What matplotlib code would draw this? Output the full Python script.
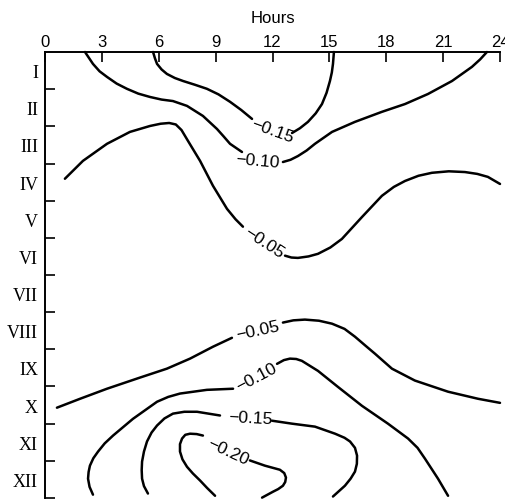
import matplotlib.pyplot as plt

# hour ticks along the top, months down the side
hour_ticks = [0, 3, 6, 9, 12, 15, 18, 21, 24]
months = ["I", "II", "III", "IV", "V", "VI", "VII", "VIII", "IX", "X", "XI", "XII"]

# isolines: (hours, month position), split at the label gap
# upper -0.15
u15a_h = [5.70, 5.80, 5.91, 6.15, 6.43, 6.85, 7.28, 7.90, 8.54, 9.15, 9.76, 10.35, 10.92]
u15a_m = [0.00, 0.17, 0.32, 0.47, 0.59, 0.70, 0.78, 0.88, 0.99, 1.14, 1.34, 1.56, 1.80]
u15b_h = [13.03, 13.45, 13.87, 14.28, 14.61, 14.85, 15.03, 15.13, 15.19, 15.24]
u15b_m = [2.18, 2.05, 1.88, 1.65, 1.40, 1.10, 0.78, 0.55, 0.32, 0.00]
# upper -0.10
u10a_h = [2.11, 2.53, 2.88, 3.27, 3.78, 4.32, 4.92, 5.54, 6.15, 6.75, 7.49, 8.33, 9.07, 9.42, 9.76, 10.39]
u10a_m = [0.00, 0.32, 0.52, 0.67, 0.85, 0.99, 1.12, 1.21, 1.28, 1.32, 1.45, 1.72, 2.07, 2.27, 2.47, 2.69]
u10b_h = [12.55, 12.95, 13.34, 13.80, 14.24, 15.14, 16.35, 17.77, 18.99, 20.20, 21.47, 22.52, 22.95, 23.31]
u10b_m = [2.96, 2.90, 2.80, 2.65, 2.47, 2.15, 1.88, 1.61, 1.40, 1.13, 0.78, 0.40, 0.20, 0.00]
# upper -0.05
u05a_h = [1.05, 2.00, 3.27, 4.48, 5.54, 6.10, 6.55, 6.90, 7.20, 7.54, 8.18, 8.86, 9.60, 10.05, 10.44]
u05a_m = [3.41, 2.93, 2.47, 2.15, 1.99, 1.93, 1.91, 1.95, 2.10, 2.39, 2.93, 3.60, 4.22, 4.50, 4.70]
u05b_h = [12.66, 13.00, 13.34, 13.90, 14.40, 15.05, 15.66, 16.72, 17.77, 18.40, 18.99, 19.70, 20.41, 21.30, 22.15, 22.80, 23.36, 24.00]
u05b_m = [5.48, 5.53, 5.54, 5.50, 5.43, 5.26, 5.03, 4.44, 3.87, 3.63, 3.47, 3.33, 3.25, 3.21, 3.23, 3.28, 3.36, 3.55]
# lower -0.05
l05a_h = [0.63, 1.85, 3.27, 5.01, 6.43, 7.65, 8.86, 9.86]
l05a_m = [9.57, 9.33, 9.06, 8.76, 8.52, 8.25, 7.93, 7.69]
l05b_h = [12.55, 13.10, 13.71, 14.45, 15.14, 15.80, 16.35, 16.90, 17.41, 18.30, 19.51, 21.26, 22.84, 24.00]
l05b_m = [7.28, 7.22, 7.20, 7.23, 7.31, 7.45, 7.66, 7.90, 8.12, 8.52, 8.84, 9.14, 9.33, 9.44]
# lower -0.10
l10a_h = [2.53, 2.35, 2.27, 2.30, 2.37, 2.55, 2.80, 3.15, 3.59, 4.64, 5.91, 6.50, 7.12, 8.54, 9.92]
l10a_m = [11.91, 11.70, 11.48, 11.30, 11.13, 10.93, 10.75, 10.53, 10.32, 9.87, 9.41, 9.28, 9.19, 9.09, 9.06]
l10b_h = [12.24, 12.60, 12.92, 13.25, 13.55, 14.40, 15.45, 16.72, 18.09, 19.15, 19.65, 20.04, 20.73, 21.26]
l10b_m = [8.39, 8.29, 8.25, 8.26, 8.31, 8.58, 9.01, 9.52, 10.00, 10.40, 10.65, 10.94, 11.48, 11.94]
# lower -0.15
l15a_h = [5.43, 5.22, 5.12, 5.10, 5.12, 5.22, 5.38, 5.62, 5.91, 6.30, 6.75, 7.35, 8.02, 9.23]
l15a_m = [11.88, 11.68, 11.48, 11.25, 11.02, 10.75, 10.48, 10.24, 10.05, 9.86, 9.73, 9.68, 9.68, 9.78]
l15b_h = [11.97, 13.03, 14.24, 15.30, 15.80, 16.09, 16.35, 16.46, 16.45, 16.35, 16.12, 15.82, 15.19]
l15b_m = [9.92, 10.00, 10.08, 10.27, 10.38, 10.48, 10.65, 10.86, 11.08, 11.29, 11.48, 11.67, 11.96]
# -0.20
l20a_h = [8.97, 8.55, 8.18, 7.80, 7.49, 7.25, 7.12, 7.12, 7.23, 7.40, 7.65, 8.00, 8.33]
l20a_m = [11.94, 11.73, 11.53, 11.34, 11.16, 10.96, 10.75, 10.55, 10.40, 10.30, 10.27, 10.28, 10.32]
l20b_h = [10.81, 11.60, 12.39, 12.62, 12.71, 12.67, 12.55, 12.30, 12.03, 11.45]
l20b_m = [10.99, 11.13, 11.24, 11.33, 11.45, 11.57, 11.67, 11.76, 11.83, 11.99]

# labels: text, hour, month, rotation
lab_text = ["\u22120.15", "\u22120.10", "\u22120.05", "\u22120.05", "\u22120.10", "\u22120.15", "\u22120.20"]
lab_h = [12.0, 11.23, 11.55, 11.23, 11.13, 10.81, 9.65]
lab_m = [2.12, 2.93, 5.13, 7.47, 8.74, 9.84, 10.73]
lab_rot = [-20, -5, -33, 12, 28, -3, -25]

segments = [(u15a_h, u15a_m), (u15b_h, u15b_m), (u10a_h, u10a_m), (u10b_h, u10b_m),
	(u05a_h, u05a_m), (u05b_h, u05b_m), (l05a_h, l05a_m), (l05b_h, l05b_m),
	(l10a_h, l10a_m), (l10b_h, l10b_m), (l15a_h, l15a_m), (l15b_h, l15b_m),
	(l20a_h, l20a_m), (l20b_h, l20b_m)]

plt.rcParams['font.family'] = ['Liberation Sans', 'DejaVu Sans']

fig = plt.figure(figsize=(5.05, 5.02), dpi=100, facecolor='w')
ax = fig.add_axes([45/505, 1-499/502, 455/505, 446/502])

for h, m in segments:
	ax.plot(h, m, color='k', lw=1.8, solid_capstyle='round', solid_joinstyle='round', clip_on=False)

for t, h, m, r in zip(lab_text, lab_h, lab_m, lab_rot):
	ax.text(h, m, t, rotation=r, rotation_mode='anchor', ha='center', va='center', fontsize=12.5)

ax.set_xlim(0, 24)
ax.set_ylim(12, 0)

ax.spines['right'].set_visible(False)
ax.spines['bottom'].set_visible(False)
ax.spines['top'].set_linewidth(1.4)
ax.spines['left'].set_linewidth(1.4)

ax.xaxis.tick_top()
ax.xaxis.set_label_position('top')
ax.set_xticks(hour_ticks)
ax.set_xticklabels([str(v) for v in hour_ticks])
ax.tick_params(axis='x', direction='in', length=7, width=1.2, labelsize=12, pad=2)
ax.set_xlabel("Hours", fontsize=12, labelpad=9)

ax.set_yticks(range(1, 13))
ax.set_yticklabels([])
ax.set_yticks([i + 0.5 for i in range(12)], minor=True)
ax.set_yticklabels(months, minor=True, family=['Liberation Serif'], fontsize=13)
ax.tick_params(axis='y', which='major', direction='in', length=7, width=1.2)
ax.tick_params(axis='y', which='minor', length=0, pad=5)

fig.savefig("out.png", dpi=100, facecolor='w')
